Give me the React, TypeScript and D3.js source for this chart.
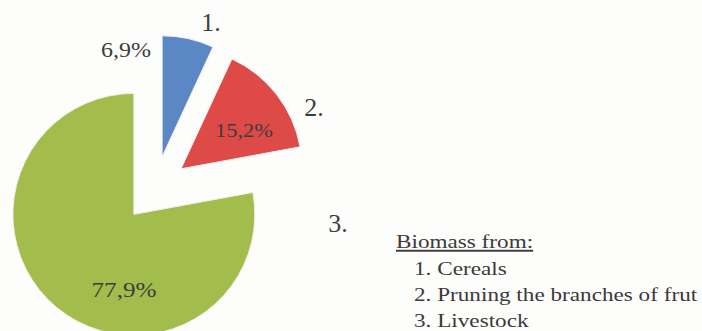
import React from "react";
import * as d3 from "d3";

const categories = ["1.", "2.", "3."];
const values = [6.9, 15.2, 77.9];
const valueLabels = ["6,9%", "15,2%", "77,9%"];
const colors = ["#5B87C5", "#DE4A48", "#A3BD4C"];
const legendTitle = "Biomass from:";
const legendItems = ["1. Cereals", "2. Pruning the branches of frut", "3. Livestock"];

// label placement relative to pie centre (layout, not data)
const pctLabelPos = [
  [-29, -139],
  [89, -58],
  [-31, 101],
];
const catLabelPos = [
  [56, -167],
  [159, -82],
  [183, 34],
];
const pctScale = [1.2, 1.25, 1.2];
const pctSize = [20, 18, 21];

export default function App() {
  const W = 702;
  const H = 331;
  const cx = 155;
  const cy = 189;
  const R = 121;
  const explode = 33;

  const pie = d3
    .pie<number>()
    .sort(null)
    .value((d) => d)
    .startAngle(0)
    .endAngle(2 * Math.PI);
  const arcs = pie(values);
  const arc = d3.arc<d3.PieArcDatum<number>>().innerRadius(0).outerRadius(R);

  return (
    <div style={{ position: "absolute", left: 0, top: 0, width: W, height: H, overflow: "hidden", background: "#fff" }}>
      <svg width={W} height={H} style={{ display: "block" }} fontFamily="'Liberation Serif', 'Times New Roman', serif">
        <rect width={W} height={H} fill="#fdfdfb" />
        <g transform={`translate(${cx},${cy})`}>
          {arcs.map((a, i) => {
            const mid = (a.startAngle + a.endAngle) / 2;
            const [ox, oy] = d3.pointRadial(mid, explode);
            return (
              <path
                key={i}
                d={arc(a) || ""}
                transform={`translate(${ox},${oy})`}
                fill={colors[i]}
                stroke="#f4f0ee"
                strokeWidth={1}
              />
            );
          })}
          {valueLabels.map((t, i) => (
            <text
              key={"p" + i}
              transform={`translate(${pctLabelPos[i][0]},${pctLabelPos[i][1]}) scale(${pctScale[i]},1)`}
              textAnchor="middle"
              dominantBaseline="central"
              fontSize={pctSize[i]}
              fill="#3d3d3d"
            >
              {t}
            </text>
          ))}
          {categories.map((t, i) => (
            <text
              key={"c" + i}
              transform={`translate(${catLabelPos[i][0]},${catLabelPos[i][1]})`}
              textAnchor="middle"
              dominantBaseline="central"
              fontSize={26}
              fill="#3d3d3d"
            >
              {t}
            </text>
          ))}
        </g>
        <g fill="#3a3a3a" fontSize={19}>
          <text transform="translate(396,248) scale(1.22,1)" textDecoration="underline">
            {legendTitle}
          </text>
          {legendItems.map((t, i) => (
            <text key={i} transform={`translate(414,${275 + i * 26}) scale(1.22,1)`}>
              {t}
            </text>
          ))}
        </g>
      </svg>
    </div>
  );
}
